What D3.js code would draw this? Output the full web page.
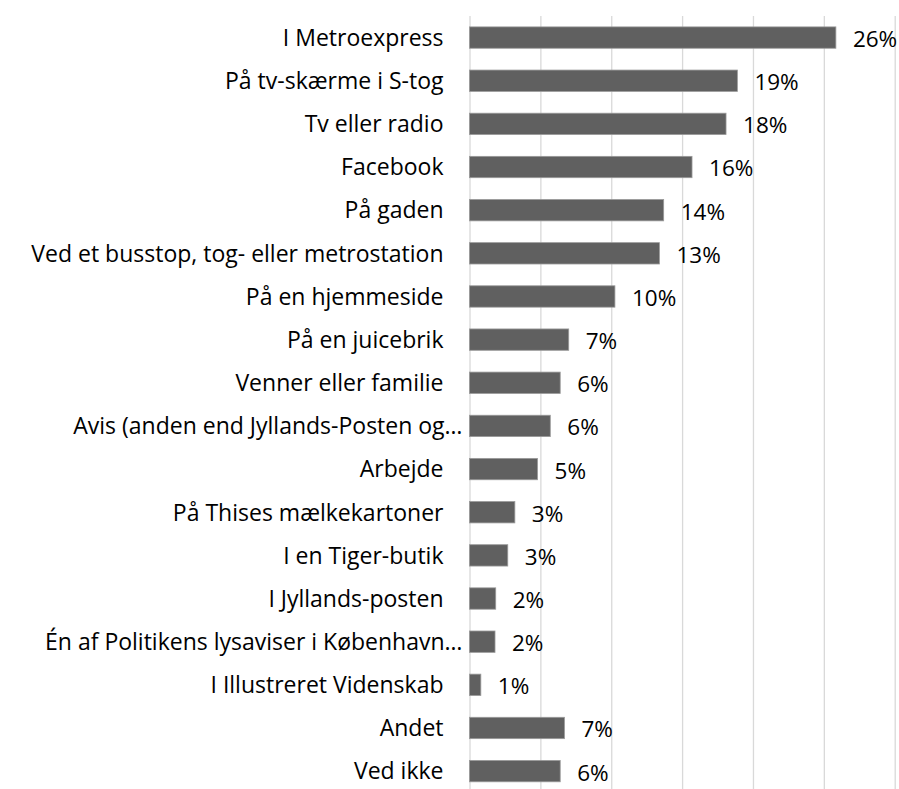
<!DOCTYPE html>
<html>
<head>
<meta charset="utf-8">
<script src="https://cdn.jsdelivr.net/npm/d3@7"></script>
<style>
	body { margin: 0; background: #fff; }
	text { font-family: 'Open Sans', Lato, sans-serif; fill: #000; }
</style>
</head>
<body>
<div id="chart"></div>
<script>
// categories, top to bottom
const categories = [
	'I Metroexpress',
	'På tv-skærme i S-tog',
	'Tv eller radio',
	'Facebook',
	'På gaden',
	'Ved et busstop, tog- eller metrostation',
	'På en hjemmeside',
	'På en juicebrik',
	'Venner eller familie',
	'Avis (anden end Jyllands-Posten og…',
	'Arbejde',
	'På Thises mælkekartoner',
	'I en Tiger-butik',
	'I Jyllands-posten',
	'Én af Politikens lysaviser i København…',
	'I Illustreret Videnskab',
	'Andet',
	'Ved ikke'
];
// share of respondents, in percent
const values = [25.85, 18.9, 18.1, 15.7, 13.7, 13.4, 10.26, 7.0, 6.4, 5.7, 4.8, 3.2, 2.7, 1.85, 1.8, 0.8, 6.7, 6.4];
const gridTicks = [0, 5, 10, 15, 20, 25, 30];

const width = 899;
const height = 789;
const margin = { top: 16, left: 469.5, right: 4.3 };
const plotBottom = 792.7;

const svg = d3.select('#chart').append('svg').attr('width', width).attr('height', height);

const x = d3.scaleLinear().domain([ 0, 30 ]).range([ margin.left, width - margin.right ]);
const y = d3.scaleBand().domain(categories).range([ margin.top, plotBottom ]).paddingInner(0.505).paddingOuter(0.2525);

// vertical gridlines
const grid = d3.axisBottom(x).tickValues(gridTicks).tickSize(-(plotBottom - margin.top)).tickFormat('');
svg
	.append('g')
	.attr('transform', 'translate(0,' + plotBottom + ')')
	.call(grid)
	.call(function(g) {
		g.select('.domain').remove();
		g.selectAll('.tick line').attr('stroke', '#d9d9d9').attr('stroke-width', 1.3);
	});

const rows = categories.map(function(c, i) {
	return { cat: c, value: values[i] };
});

svg
	.selectAll('rect.bar')
	.data(rows)
	.enter()
	.append('rect')
	.attr('class', 'bar')
	.attr('x', x(0))
	.attr('y', function(d) { return y(d.cat); })
	.attr('width', function(d) { return x(d.value) - x(0); })
	.attr('height', y.bandwidth())
	.attr('fill', '#606060')
	.attr('stroke', '#9a9a9a')
	.attr('stroke-width', 0.8);

// category labels (truncated ones sit closer to the axis, like Excel does)
svg
	.selectAll('text.cat')
	.data(rows)
	.enter()
	.append('text')
	.attr('class', 'cat')
	.attr('x', function(d) { return x(0) - (d.cat.endsWith('…') ? 7 : 26); })
	.attr('y', function(d) { return y(d.cat) + y.bandwidth() / 2; })
	.attr('dy', '0.36em')
	.attr('text-anchor', 'end')
	.attr('font-size', '23px')
	.text(function(d) { return d.cat; });

// value labels
svg
	.selectAll('text.val')
	.data(rows)
	.enter()
	.append('text')
	.attr('class', 'val')
	.attr('x', function(d) { return x(d.value) + 17; })
	.attr('y', function(d) { return y(d.cat) + y.bandwidth() / 2; })
	.attr('dy', '0.42em')
	.attr('font-size', '22.5px')
	.text(function(d) { return Math.round(d.value) + '%'; });
</script>
</body>
</html>
